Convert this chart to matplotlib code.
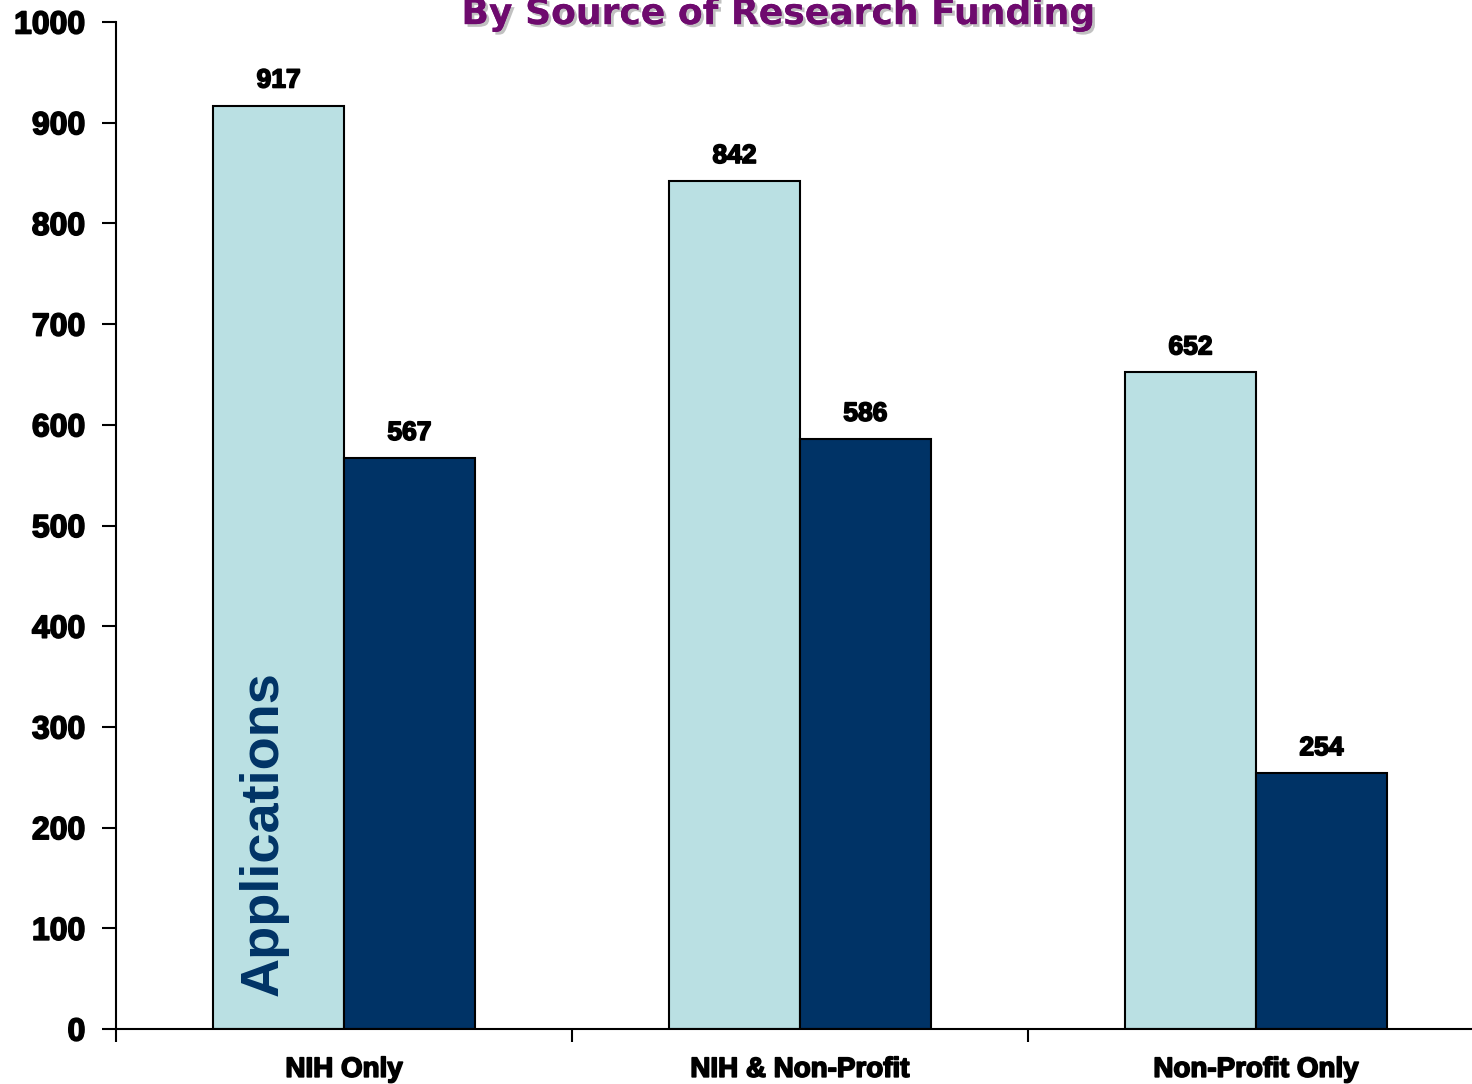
import numpy as np
import matplotlib.pyplot as plt
import matplotlib.patheffects as pe

categories = ['NIH Only', 'NIH & Non-Profit', 'Non-Profit Only']
applications = [917, 842, 652]
funded = [567, 586, 254]

light = '#BAE0E3'
dark = '#003366'

plt.rcParams['font.family'] = ['Liberation Sans', 'DejaVu Sans']
heavy = [pe.withStroke(linewidth=1.2, foreground='black')]

fig = plt.figure(figsize=(14.72, 10.84), dpi=100)
ax = fig.add_axes([0.0788, 0.0507, 0.9293, 0.929])

x = np.arange(len(categories)) + 0.5
w = 0.287
b1 = ax.bar(x - w / 2, applications, w, color=light, edgecolor='black', linewidth=1.5)
b2 = ax.bar(x + w / 2, funded, w, color=dark, edgecolor='black', linewidth=1.5)

for bars, vals in ((b1, applications), (b2, funded)):
    for r, v in zip(bars, vals):
        ax.text(r.get_x() + r.get_width() / 2, v + 13, str(v), ha='center', va='bottom',
                fontsize=19, fontweight='bold', color='black', path_effects=heavy)

ax.text(x[0] - w / 2 - 0.033, 33, 'Applications', rotation=90, ha='center', va='bottom',
        fontsize=39, fontweight='bold', color=dark)

ax.set_xlim(0, 3)
ax.set_ylim(0, 1000)
ax.set_yticks(np.arange(0, 1001, 100))
ax.set_xticks([0, 1, 2, 3])
ax.set_xticklabels([])
ax.set_xticks(x, minor=True)
ax.set_xticklabels(categories, minor=True, fontsize=20, fontweight='bold')
for lab in ax.get_xticklabels(minor=True):
    lab.set_path_effects(heavy)
ax.tick_params(axis='x', which='minor', length=0, pad=20)
ax.tick_params(axis='x', which='major', length=9, width=1.5, direction='out')
ax.tick_params(axis='y', length=10, width=1.5, direction='out', pad=12)
for lab in ax.get_yticklabels():
    lab.set_fontsize(23)
    lab.set_fontweight('bold')
    lab.set_path_effects(heavy)

for s in ('top', 'right'):
    ax.spines[s].set_visible(False)
for s in ('left', 'bottom'):
    ax.spines[s].set_linewidth(1.5)

fig.text(0.529, 0.987, 'By Source of Research Funding', ha='center', va='center',
         fontsize=26, fontweight='bold', color='#6E0A6E', family=['DejaVu Sans'],
         path_effects=[pe.withSimplePatchShadow(offset=(2, -2), shadow_rgbFace='#999999', alpha=0.6),
                       pe.Normal()])

fig.savefig('out.png', dpi=100)
